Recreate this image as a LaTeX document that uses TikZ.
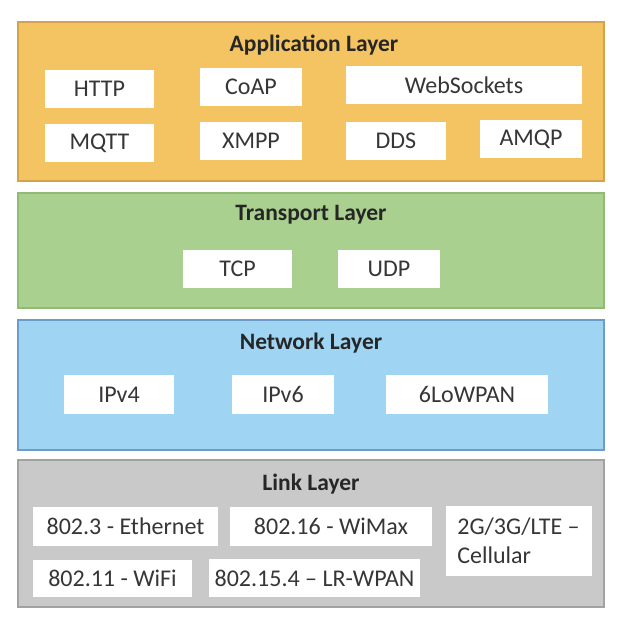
\documentclass[tikz,border=0pt]{standalone}
\usepackage{fontspec}
\setmainfont{Carlito}
\definecolor{appfill}{HTML}{F5C462}
\definecolor{appline}{HTML}{D3A24C}
\definecolor{trfill}{HTML}{A9D08E}
\definecolor{trline}{HTML}{8FBB72}
\definecolor{netfill}{HTML}{9FD4F2}
\definecolor{netline}{HTML}{6C9CC8}
\definecolor{linkfill}{HTML}{C9C9C9}
\definecolor{linkline}{HTML}{A2A2A2}
\definecolor{itemtext}{HTML}{363636}
\definecolor{titletext}{HTML}{262626}
\tikzset{
  layerbox/.style={draw, line width=1.2pt, inner sep=0pt},
  itembox/.style={fill=white, inner sep=0pt, text=itemtext,
    font=\fontsize{24}{29}\selectfont},
  layertitle/.style={text=titletext, inner sep=0pt,
    font=\bfseries\fontsize{23.5}{26}\selectfont}
}
\begin{document}
\begin{tikzpicture}[x=1pt,y=-1pt]
\useasboundingbox (0,0) rectangle (620,624);

% Application layer
\node[layerbox, fill=appfill, draw=appline, minimum width=586pt, minimum height=159pt] (app) at (311,101.5) {};
\node[layertitle] (apptitle) at (314,45.5) {Application Layer};
\node[itembox, minimum width=109pt, minimum height=38pt] (http) at (99.5,89) {HTTP};
\node[itembox, minimum width=102pt, minimum height=38pt] (coap) at (251,87) {CoAP};
\node[itembox, minimum width=236pt, minimum height=38pt] (ws) at (464,85) {WebSockets};
\node[itembox, minimum width=109pt, minimum height=38pt] (mqtt) at (99.5,143) {MQTT};
\node[itembox, minimum width=102pt, minimum height=38pt] (xmpp) at (251,141) {XMPP};
\node[itembox, minimum width=100pt, minimum height=38pt] (dds) at (396,141) {DDS};
\node[itembox, minimum width=102pt, minimum height=38pt] (amqp) at (531,139) {AMQP};

% Transport layer
\node[layerbox, fill=trfill, draw=trline, minimum width=586pt, minimum height=115pt] (tr) at (311,250.5) {};
\node[layertitle] (trtitle) at (311,214.5) {Transport Layer};
\node[itembox, minimum width=109pt, minimum height=38pt] (tcp) at (237.5,269) {TCP};
\node[itembox, minimum width=102pt, minimum height=38pt] (udp) at (389,269) {UDP};

% Network layer
\node[layerbox, fill=netfill, draw=netline, minimum width=586pt, minimum height=130pt] (net) at (311,385) {};
\node[layertitle] (nettitle) at (311,343.5) {Network Layer};
\node[itembox, minimum width=110pt, minimum height=39pt] (ipv4) at (119,394.5) {IPv4};
\node[itembox, minimum width=102pt, minimum height=39pt] (ipv6) at (283,394.5) {IPv6};
\node[itembox, minimum width=162pt, minimum height=39pt] (lowpan) at (467,394.5) {6LoWPAN};

% Link layer
\node[layerbox, fill=linkfill, draw=linkline, minimum width=586pt, minimum height=147pt] (link) at (311,533.5) {};
\node[layertitle] (linktitle) at (311,484.5) {Link Layer};
\node[itembox, minimum width=185pt, minimum height=39pt] (eth) at (125.5,526.5) {802.3 - Ethernet};
\node[itembox, minimum width=202pt, minimum height=39pt] (wimax) at (331,526.5) {802.16 - WiMax};
\node[itembox, minimum width=146pt, minimum height=70pt, align=left] (cell) at (518.5,541) {2G/3G/LTE –\\Cellular};
\node[itembox, minimum width=159pt, minimum height=37pt] (wifi) at (112.5,578.5) {802.11 - WiFi};
\node[itembox, minimum width=211pt, minimum height=38pt] (wpan) at (314.5,578) {802.15.4 – LR-WPAN};
\end{tikzpicture}
\end{document}
